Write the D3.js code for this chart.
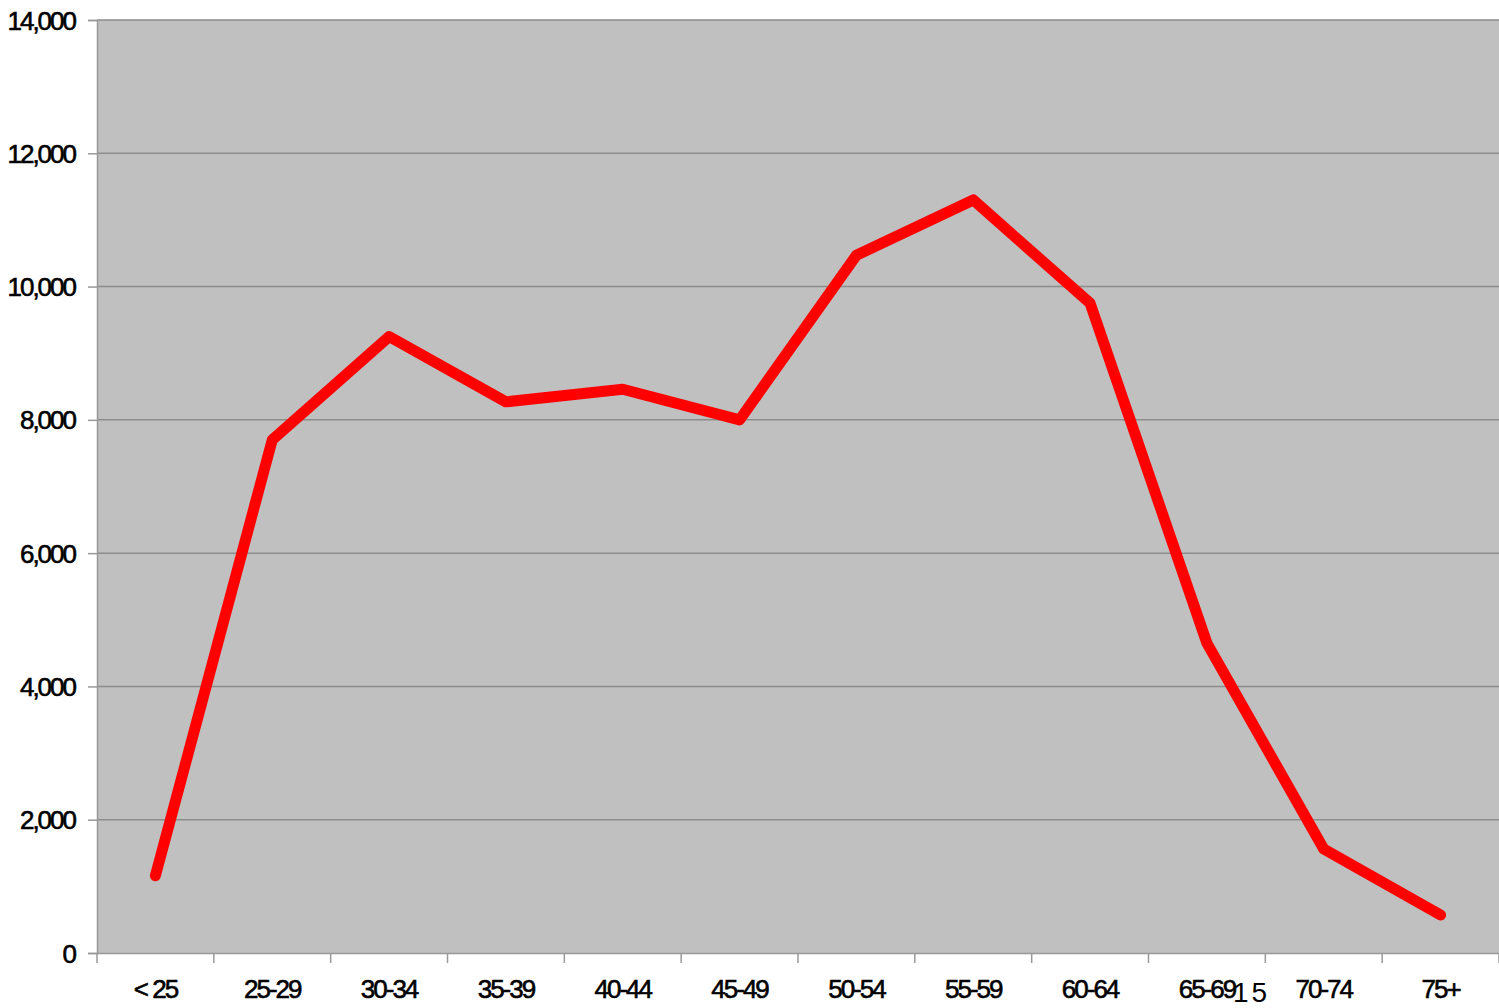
<!DOCTYPE html>
<html>
<head>
<meta charset="utf-8">
<script src="https://cdn.jsdelivr.net/npm/d3@7"></script>
<style>
  html, body { margin: 0; padding: 0; background: #ffffff; }
  svg { display: block; }
  .lbl { font-family: "Liberation Sans", Arial, sans-serif; font-size: 26px; fill: #000; stroke: #000; stroke-width: 0.6px; letter-spacing: -2px; }
</style>
</head>
<body>
<svg id="chart" width="1499" height="1008"></svg>
<script>
const categories = ["< 25", "25-29", "30-34", "35-39", "40-44", "45-49", "50-54", "55-59", "60-64", "65-69", "70-74", "75+"];
const values = [1160, 7700, 9250, 8270, 8460, 8000, 10470, 11300, 9750, 4650, 1560, 570];
const yTicks = [0, 2000, 4000, 6000, 8000, 10000, 12000, 14000];
const pageNumber = "15";

const W = 1499, H = 1008;
const m = { left: 97, right: 0, top: 20, bottom: 55 };
const svg = d3.select("#chart");

const x = d3.scaleBand().domain(categories).range([m.left, W - m.right]).padding(0);
const y = d3.scaleLinear().domain([0, 14000]).range([H - m.bottom, m.top]);

// plot background
svg.append("rect")
  .attr("x", m.left).attr("y", m.top)
  .attr("width", W - m.right - m.left).attr("height", (H - m.bottom) - m.top)
  .attr("fill", "#c0c0c0");

// gridlines
svg.append("g").selectAll("line").data(yTicks.filter(d => d > 0)).join("line")
  .attr("x1", m.left).attr("x2", W - m.right)
  .attr("y1", d => y(d)).attr("y2", d => y(d))
  .attr("stroke", "#8c8c8c").attr("stroke-width", 1.5);

// y axis
const yAxis = svg.append("g").attr("transform", `translate(${m.left},0)`)
  .call(d3.axisLeft(y).tickValues(yTicks).tickSize(9).tickPadding(13).tickFormat(d3.format(",")));
yAxis.select(".domain").attr("stroke", "#999").attr("stroke-width", 1.5);
yAxis.selectAll(".tick line").attr("stroke", "#999").attr("stroke-width", 1.5);
yAxis.selectAll(".tick text").attr("class", "lbl").attr("dy", "0.35em");

// x axis
const xAxis = svg.append("g").attr("transform", `translate(0,${H - m.bottom})`)
  .call(d3.axisBottom(x).tickSize(0).tickPadding(0));
xAxis.select(".domain").attr("stroke", "#999").attr("stroke-width", 1.5);
xAxis.selectAll(".tick text").attr("class", "lbl").attr("y", 45).attr("dy", 0);
// category boundary ticks
const bounds = categories.map(c => x(c)).concat([x(categories[categories.length - 1]) + x.bandwidth()]);
svg.append("g").selectAll("line").data(bounds).join("line")
  .attr("x1", d => d).attr("x2", d => d)
  .attr("y1", H - m.bottom).attr("y2", H - m.bottom + 10)
  .attr("stroke", "#999").attr("stroke-width", 1.5);

// line
const line = d3.line()
  .x((d, i) => x(categories[i]) + x.bandwidth() / 2)
  .y(d => y(d));
svg.append("path").datum(values)
  .attr("d", line)
  .attr("fill", "none")
  .attr("stroke", "#ff0000")
  .attr("stroke-width", 11)
  .attr("stroke-linejoin", "round")
  .attr("stroke-linecap", "round");

// page number
svg.append("text")
  .attr("x", 1233).attr("y", 1002)
  .attr("font-family", "'Liberation Sans', Arial, sans-serif")
  .attr("font-size", 28)
  .attr("letter-spacing", "3px")
  .attr("fill", "#000")
  .text(pageNumber);
</script>
</body>
</html>
